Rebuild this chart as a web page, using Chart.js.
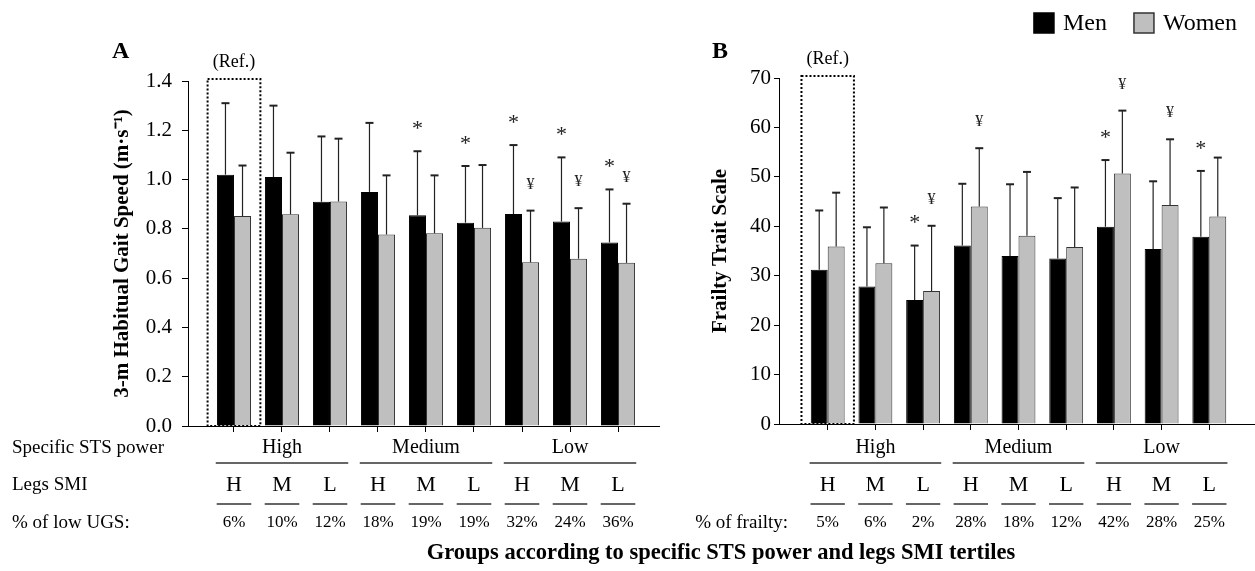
<!DOCTYPE html>
<html>
<head>
<meta charset="utf-8">
<script src="https://cdn.jsdelivr.net/npm/chart.js@4.4.1/dist/chart.umd.min.js"></script>
<style>
  body { margin: 0; background: #fff; }
  #wrap { position: relative; width: 1255px; height: 571px; overflow: hidden; }
  canvas { position: absolute; top: 0; }
  #speed { left: 0; }
  #frailty { left: 660px; }
  #xtitle { position: absolute; left: 721px; top: 539px; transform: translateX(-50%);
            font: bold 22.5px 'Liberation Serif', 'Times New Roman', serif; white-space: nowrap; color: #000; line-height: 26px; }
</style>
</head>
<body>
<div id="wrap">
  <canvas id="speed" width="660" height="571"></canvas>
  <canvas id="frailty" width="595" height="571"></canvas>
  <div id="xtitle">Groups according to specific STS power and legs SMI tertiles</div>
</div>
<script>
// groups: STS power tertile x legs SMI tertile
const stsGroups = ['High', 'Medium', 'Low'];
const smiLabels = ['H', 'M', 'L', 'H', 'M', 'L', 'H', 'M', 'L'];
const lowUgsPct = ['6%', '10%', '12%', '18%', '19%', '19%', '32%', '24%', '36%'];
const frailtyPct = ['5%', '6%', '2%', '28%', '18%', '12%', '42%', '28%', '25%'];

// A: 3-m habitual gait speed (mean, SD)
const speedMen = [1.02, 1.01, 0.91, 0.95, 0.855, 0.825, 0.86, 0.83, 0.745];
const speedMenSD = [0.29, 0.29, 0.265, 0.28, 0.26, 0.23, 0.28, 0.26, 0.215];
const speedWomen = [0.852, 0.859, 0.911, 0.777, 0.782, 0.804, 0.664, 0.679, 0.662];
const speedWomenSD = [0.205, 0.25, 0.255, 0.24, 0.235, 0.255, 0.21, 0.205, 0.24];
const speedMenSig = ['', '', '', '', '*', '*', '*', '*', '*'];
const speedWomenSig = ['', '', '', '', '', '', '¥', '¥', '¥'];

// B: frailty trait scale (mean, SD)
const frailMen = [31.2, 27.8, 25.1, 36.1, 34.0, 33.5, 39.9, 35.4, 37.9];
const frailMenSD = [12.0, 12.0, 11.0, 12.5, 14.5, 12.2, 13.5, 13.7, 13.3];
const frailWomen = [35.9, 32.5, 26.9, 44.0, 38.1, 35.8, 50.7, 44.3, 42.0];
const frailWomenSD = [10.9, 11.3, 13.2, 11.8, 12.9, 12.05, 12.7, 13.3, 11.9];
const frailMenSig = ['', '', '*', '', '', '', '*', '', '*'];
const frailWomenSig = ['', '', '¥', '¥', '', '', '¥', '¥', ''];

const SERIF = "'Liberation Serif', 'Times New Roman', serif";

function hline(ctx, a, b, y) {
  ctx.beginPath(); ctx.moveTo(a, y); ctx.lineTo(b, y); ctx.stroke();
}

const extrasPlugin = {
  id: 'extras',
  afterDatasetsDraw(chart, args, opt) {
    const ctx = chart.ctx;
    const x = chart.scales.x, y = chart.scales.y;
    ctx.save();
    ctx.textAlign = 'center';
    ctx.textBaseline = 'middle';

    // error bars (upper only) and significance marks
    chart.data.datasets.forEach((ds, di) => {
      chart.getDatasetMeta(di).data.forEach((bar, i) => {
        const top = y.getPixelForValue(ds.data[i].y + ds.sd[i]);
        ctx.strokeStyle = '#222';
        ctx.lineWidth = 1.2;
        ctx.beginPath(); ctx.moveTo(bar.x, bar.y); ctx.lineTo(bar.x, top); ctx.stroke();
        ctx.lineWidth = 2;
        hline(ctx, bar.x - 4, bar.x + 4, top);
        const m = ds.sig[i];
        if (m) {
          ctx.fillStyle = '#222';
          ctx.font = (m === '*' ? '22px ' : '16px ') + SERIF;
          ctx.fillText(m, bar.x, top - 26 + (m === '*' ? 4 : 0));
        }
      });
    });

    // reference group box
    const l = x.getPixelForValue(0.45), r = x.getPixelForValue(1.55);
    ctx.strokeStyle = '#000';
    ctx.lineWidth = 2;
    ctx.setLineDash([2, 2]);
    ctx.strokeRect(l, y.top - 2, r - l, y.bottom - y.top + 2);
    ctx.setLineDash([]);
    ctx.fillStyle = '#000';
    ctx.font = '18px ' + SERIF;
    ctx.fillText('(Ref.)', x.getPixelForValue(1), y.top - 19);

    // panel letter
    ctx.textAlign = 'left';
    ctx.font = 'bold 24px ' + SERIF;
    ctx.fillText(opt.letter, opt.letterX, 52);

    // group table under the axis
    ctx.textAlign = 'center';
    ctx.strokeStyle = '#333';
    ctx.lineWidth = 1.5;
    stsGroups.forEach((g, gi) => {
      const a = x.getPixelForValue(gi * 3 + 1 - 0.38);
      const b = x.getPixelForValue(gi * 3 + 3 + 0.38);
      ctx.font = '20px ' + SERIF;
      ctx.fillText(g, (a + b) / 2, 448);
      hline(ctx, a, b, 463);
    });
    smiLabels.forEach((s, i) => {
      const c = x.getPixelForValue(i + 1);
      ctx.font = '22px ' + SERIF;
      ctx.fillText(s, c, 485);
      hline(ctx, x.getPixelForValue(i + 1 - 0.36), x.getPixelForValue(i + 1 + 0.36), 504);
      ctx.font = '17px ' + SERIF;
      ctx.fillText(opt.pct[i], c, 523);
    });
    ctx.font = '19px ' + SERIF;
    opt.rows.forEach(rw => {
      ctx.textAlign = rw.align;
      ctx.fillText(rw.text, rw.x, rw.y);
    });

    // legend (panel B only)
    if (opt.legend) {
      ctx.font = '24px ' + SERIF;
      ctx.textAlign = 'left';
      const items = chart.data.datasets;
      const widths = items.map(d => ctx.measureText(d.label).width);
      let total = 0;
      widths.forEach((w, i) => { total += 20 + 9 + w + (i ? 27 : 0); });
      let cx = opt.legend.right - total;
      items.forEach((d, i) => {
        ctx.fillStyle = d.backgroundColor;
        ctx.fillRect(cx, opt.legend.y - 10, 20, 20);
        ctx.strokeStyle = d.borderColor;
        ctx.lineWidth = 1.5;
        ctx.strokeRect(cx, opt.legend.y - 10, 20, 20);
        ctx.fillStyle = '#000';
        ctx.fillText(d.label, cx + 29, opt.legend.y + 1);
        cx += 20 + 9 + widths[i] + 27;
      });
    }
    ctx.restore();
  }
};

function makeChart(id, c) {
  const toPts = arr => arr.map((v, i) => ({ x: i + 1, y: v }));
  return new Chart(document.getElementById(id), {
    type: 'bar',
    data: {
      datasets: [
        { label: 'Men', data: toPts(c.men), sd: c.menSD, sig: c.menSig,
          backgroundColor: '#000000', borderColor: '#000000', borderWidth: 1 },
        { label: 'Women', data: toPts(c.women), sd: c.womenSD, sig: c.womenSig,
          backgroundColor: '#bfbfbf', borderColor: '#333333', borderWidth: 1 }
      ]
    },
    options: {
      responsive: false,
      animation: false,
      devicePixelRatio: 1,
      layout: { padding: c.padding },
      datasets: { bar: { categoryPercentage: 0.71, barPercentage: 1 } },
      plugins: {
        legend: { display: false },
        tooltip: { enabled: false },
        extras: c.extras
      },
      scales: {
        x: {
          type: 'linear',
          offset: false,
          min: c.xMin,
          max: c.xMax,
          afterBuildTicks: s => { s.ticks = smiLabels.map((_, i) => ({ value: i + 1 })); },
          afterFit: s => { s.height = c.xHeight; },
          ticks: { display: false },
          grid: { offset: false, drawOnChartArea: false, tickLength: 6, color: '#000', lineWidth: 1 },
          border: { color: '#000', width: 1 }
        },
        y: {
          min: 0,
          max: c.yMax,
          afterFit: s => { s.width = c.yWidth; },
          ticks: {
            stepSize: c.yStep,
            color: '#000',
            padding: c.tickPad,
            font: { family: SERIF, size: 21 },
            callback: v => v.toFixed(c.decimals)
          },
          grid: { drawOnChartArea: false, tickLength: c.tickLen, color: '#000', lineWidth: 1 },
          border: { color: '#000', width: 1 },
          title: {
            display: true,
            text: c.yTitle,
            color: '#000',
            padding: 0,
            font: { family: SERIF, size: 21, weight: 'bold' }
          }
        }
      }
    },
    plugins: [extrasPlugin]
  });
}

makeChart('speed', {
  men: speedMen, menSD: speedMenSD, menSig: speedMenSig,
  women: speedWomen, womenSD: speedWomenSD, womenSig: speedWomenSig,
  padding: { left: 110, right: 1, top: 81, bottom: 0 },
  xMin: 0.042, xMax: 9.854, xHeight: 145,
  yMax: 1.4, yStep: 0.2, decimals: 1, yWidth: 78, tickPad: 10, tickLen: 6,
  yTitle: '3-m Habitual Gait Speed (m·s⁻¹)',
  extras: {
    letter: 'A', letterX: 112, pct: lowUgsPct,
    rows: [
      { text: 'Specific STS power', x: 12, y: 448, align: 'left' },
      { text: 'Legs SMI', x: 12, y: 485, align: 'left' },
      { text: '% of low UGS:', x: 12, y: 523, align: 'left' }
    ]
  }
});

makeChart('frailty', {
  men: frailMen, menSD: frailMenSD, menSig: frailMenSig,
  women: frailWomen, womenSD: frailWomenSD, womenSig: frailWomenSig,
  padding: { left: 48, right: 0, top: 78, bottom: 0 },
  xMin: -0.021, xMax: 9.958, xHeight: 147,
  yMax: 70, yStep: 10, decimals: 0, yWidth: 71, tickPad: 3, tickLen: 5,
  yTitle: 'Frailty Trait Scale',
  extras: {
    letter: 'B', letterX: 52, pct: frailtyPct,
    rows: [
      { text: '% of frailty:', x: 128, y: 523, align: 'right' }
    ],
    legend: { right: 577, y: 23 }
  }
});
</script>
</body>
</html>
